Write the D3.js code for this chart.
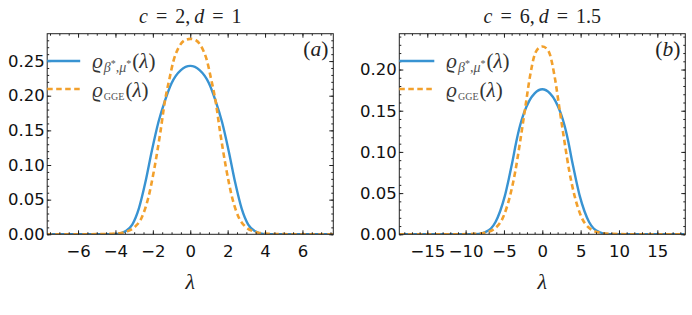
<!DOCTYPE html>
<html>
<head>
<meta charset="utf-8">
<script src="https://cdn.jsdelivr.net/npm/d3@7"></script>
<style>
  body { margin: 0; background: #fff; }
  .tick text { font-family: "DejaVu Sans", sans-serif; font-size: 16.5px; fill: #111; }
  .serif { font-family: "Liberation Serif", "DejaVu Serif", serif; fill: #222; }
</style>
</head>
<body>
<div id="chart"></div>
<script>
// panel (a): c = 2, d = 1
const lamA_fit = [-7.7, -4.3, -3.9, -3.5, -3.1, -2.75, -2.4, -2.05, -1.7, -1.35, -1.0, -0.5, 0, 0.5, 1.0, 1.35, 1.7, 2.05, 2.4, 2.75, 3.1, 3.5, 3.9, 4.3, 7.7];
const rhoA_fit = [0, 0, 0.0005, 0.004, 0.014, 0.037, 0.075, 0.121, 0.162, 0.193, 0.218, 0.237, 0.243, 0.237, 0.218, 0.193, 0.162, 0.121, 0.075, 0.037, 0.014, 0.004, 0.0005, 0, 0];
const lamA_gge = [-7.7, -5.0, -4.3, -3.7, -3.3, -2.95, -2.6, -2.25, -1.9, -1.6, -1.35, -1.1, -0.9, -0.65, -0.3, 0, 0.3, 0.65, 0.9, 1.1, 1.35, 1.6, 1.9, 2.25, 2.6, 2.95, 3.3, 3.7, 4.3, 5.0, 7.7];
const rhoA_gge = [0, 0.0002, 0.0007, 0.002, 0.005, 0.011, 0.024, 0.052, 0.098, 0.147, 0.193, 0.226, 0.25, 0.268, 0.28, 0.282, 0.28, 0.268, 0.25, 0.226, 0.193, 0.147, 0.098, 0.052, 0.024, 0.011, 0.005, 0.002, 0.0007, 0.0002, 0];

// panel (b): c = 6, d = 1.5
const lamB_fit = [-18.7, -9.5, -8.3, -7.5, -6.7, -6.1, -5.5, -4.9, -4.4, -3.9, -3.4, -2.9, -2.4, -1.7, -1.0, 0, 1.0, 1.7, 2.4, 2.9, 3.4, 3.9, 4.4, 4.9, 5.5, 6.1, 6.7, 7.5, 8.3, 9.5, 18.7];
const rhoB_fit = [0, 0, 0.0005, 0.0025, 0.007, 0.015, 0.028, 0.046, 0.066, 0.088, 0.112, 0.132, 0.147, 0.162, 0.171, 0.176, 0.171, 0.162, 0.147, 0.132, 0.112, 0.088, 0.066, 0.046, 0.028, 0.015, 0.007, 0.0025, 0.0005, 0, 0];
const lamB_gge = [-18.7, -12, -9, -7.5, -6.2, -5.1, -4.2, -3.55, -2.9, -2.25, -1.6, -1.0, -0.5, 0, 0.5, 1.0, 1.6, 2.25, 2.9, 3.55, 4.2, 5.1, 6.2, 7.5, 9, 12, 18.7];
const rhoB_gge = [0, 0, 0.0005, 0.002, 0.007, 0.021, 0.047, 0.075, 0.112, 0.152, 0.192, 0.218, 0.226, 0.228, 0.226, 0.218, 0.192, 0.152, 0.112, 0.075, 0.047, 0.021, 0.007, 0.002, 0.0005, 0, 0];

const xTicksA = [-6, -4, -2, 0, 2, 4, 6];
const yTicksA = [0, 0.05, 0.1, 0.15, 0.2, 0.25];
const xTicksB = [-15, -10, -5, 0, 5, 10, 15];
const yTicksB = [0, 0.05, 0.1, 0.15, 0.2];

const blue = "#3893d2";
const orange = "#f2a02c";

const svg = d3.select("#chart").append("svg")
  .attr("width", 692)
  .attr("height", 315);

function panel(p) {
  const x = d3.scaleLinear().domain(p.xdom).range([p.left, p.right]);
  const y = d3.scaleLinear().domain([0, p.ymax]).range([234.3, 33.7]);
  const g = svg.append("g");

  g.append("clipPath").attr("id", "clip" + p.id)
    .append("rect")
    .attr("x", p.left).attr("y", 33.7)
    .attr("width", p.right - p.left).attr("height", 200.6);

  const line = d3.line()
    .x(d => x(d[0]))
    .y(d => y(d[1]))
    .curve(d3.curveMonotoneX);

  g.append("path")
    .datum(d3.zip(p.lamFit, p.rhoFit))
    .attr("clip-path", "url(#clip" + p.id + ")")
    .attr("fill", "none")
    .attr("stroke", blue)
    .attr("stroke-width", 2.4)
    .attr("d", line);

  g.append("path")
    .datum(d3.zip(p.lamGge, p.rhoGge))
    .attr("clip-path", "url(#clip" + p.id + ")")
    .attr("fill", "none")
    .attr("stroke", orange)
    .attr("stroke-width", 2.6)
    .attr("stroke-dasharray", "5.5,3.5")
    .attr("d", line);

  // axes, ticks on all four sides pointing inward
  const minorX = d3.range(Math.ceil(p.xdom[0] / p.xminor), Math.floor(p.xdom[1] / p.xminor) + 1).map(i => i * p.xminor);
  const minorY = d3.range(0, Math.floor(p.ymax / 0.01 + 1e-6) + 1).map(i => i * 0.01);

  const axes = [
    [d3.axisBottom(x).tickValues(p.xticks).tickFormat(d3.format("")).tickSize(-4).tickPadding(11), "translate(0,234.3)"],
    [d3.axisBottom(x).tickValues(minorX).tickFormat("").tickSize(-2), "translate(0,234.3)"],
    [d3.axisTop(x).tickValues(p.xticks).tickFormat("").tickSize(-4), "translate(0,33.7)"],
    [d3.axisTop(x).tickValues(minorX).tickFormat("").tickSize(-2), "translate(0,33.7)"],
    [d3.axisLeft(y).tickValues(p.yticks).tickFormat(d3.format(".2f")).tickSize(-4).tickPadding(2.5), `translate(${p.left},0)`],
    [d3.axisLeft(y).tickValues(minorY).tickFormat("").tickSize(-2), `translate(${p.left},0)`],
    [d3.axisRight(y).tickValues(p.yticks).tickFormat("").tickSize(-4), `translate(${p.right},0)`],
    [d3.axisRight(y).tickValues(minorY).tickFormat("").tickSize(-2), `translate(${p.right},0)`]
  ];
  axes.forEach(a => {
    const ax = g.append("g").attr("transform", a[1]).call(a[0]);
    ax.select(".domain").remove();
    ax.selectAll(".tick line").attr("stroke", "#222");
  });

  g.append("rect")
    .attr("x", p.left).attr("y", 33.7)
    .attr("width", p.right - p.left).attr("height", 200.6)
    .attr("fill", "none")
    .attr("stroke", "#222")
    .attr("stroke-width", 1);

  // title
  const cx = (p.left + p.right) / 2;
  const t = g.append("text").attr("class", "serif")
    .attr("x", cx).attr("y", 23)
    .attr("text-anchor", "middle")
    .style("font-size", "20px")
    .style("word-spacing", "3px");
  t.append("tspan").style("font-style", "italic").text("c");
  t.append("tspan").text(" = " + p.c + ",");
  t.append("tspan").attr("dx", 4).style("font-style", "italic").text("d");
  t.append("tspan").text(" = " + p.d);

  // panel tag
  const tag = g.append("text").attr("class", "serif")
    .attr("x", p.right - 5).attr("y", 56)
    .attr("text-anchor", "end")
    .style("font-size", "21.5px");
  tag.append("tspan").text("(");
  tag.append("tspan").style("font-style", "italic").text(p.tag);
  tag.append("tspan").text(")");

  // axis label
  g.append("text").attr("class", "serif")
    .attr("x", cx).attr("y", 289)
    .attr("text-anchor", "middle")
    .style("font-size", "22px")
    .style("font-style", "italic")
    .text("λ");

  // legend
  const lx = p.left, lw = p.legendW;
  g.append("line")
    .attr("x1", lx).attr("x2", lx + lw)
    .attr("y1", 61).attr("y2", 61)
    .attr("stroke", blue).attr("stroke-width", 2.4);
  g.append("line")
    .attr("x1", lx).attr("x2", lx + lw)
    .attr("y1", 89).attr("y2", 89)
    .attr("stroke", orange).attr("stroke-width", 2.6)
    .attr("stroke-dasharray", "5.5,3.5");

  const l1 = g.append("text").attr("class", "serif")
    .attr("x", lx + lw + 12).attr("y", 68)
    .style("font-size", "21px").style("fill", "#333");
  l1.append("tspan").style("font-style", "italic").text("ϱ");
  l1.append("tspan").attr("dy", 4).attr("dx", 1).style("font-size", "14px").style("font-style", "italic").style("fill", "#555").text("β");
  l1.append("tspan").attr("dy", -5).style("font-size", "10px").style("fill", "#555").text("*");
  l1.append("tspan").attr("dy", 5).style("font-size", "14px").style("fill", "#555").text(",");
  l1.append("tspan").style("font-size", "14px").style("font-style", "italic").style("fill", "#555").text("μ");
  l1.append("tspan").attr("dy", -5).style("font-size", "10px").style("fill", "#555").text("*");
  l1.append("tspan").attr("dy", 1).attr("dx", 1).text("(");
  l1.append("tspan").style("font-style", "italic").text("λ");
  l1.append("tspan").text(")");

  const l2 = g.append("text").attr("class", "serif")
    .attr("x", lx + lw + 12).attr("y", 97)
    .style("font-size", "21px").style("fill", "#333");
  l2.append("tspan").style("font-style", "italic").text("ϱ");
  l2.append("tspan").attr("dy", 3).attr("dx", 1).style("font-size", "10px").style("fill", "#555").text("GGE");
  l2.append("tspan").attr("dy", -3).attr("dx", 1).text("(");
  l2.append("tspan").style("font-style", "italic").text("λ");
  l2.append("tspan").text(")");
}

panel({
  id: "a", left: 47.2, right: 333.3, xdom: [-7.65, 7.65], ymax: 0.2895,
  xticks: xTicksA, yticks: yTicksA, xminor: 0.5,
  lamFit: lamA_fit, rhoFit: rhoA_fit, lamGge: lamA_gge, rhoGge: rhoA_gge,
  c: "2", d: "1", tag: "a", legendW: 33
});
panel({
  id: "b", left: 399.3, right: 685.3, xdom: [-18.65, 18.65], ymax: 0.2435,
  xticks: xTicksB, yticks: yTicksB, xminor: 1,
  lamFit: lamB_fit, rhoFit: rhoB_fit, lamGge: lamB_gge, rhoGge: rhoB_gge,
  c: "6", d: "1.5", tag: "b", legendW: 35
});
</script>
</body>
</html>
